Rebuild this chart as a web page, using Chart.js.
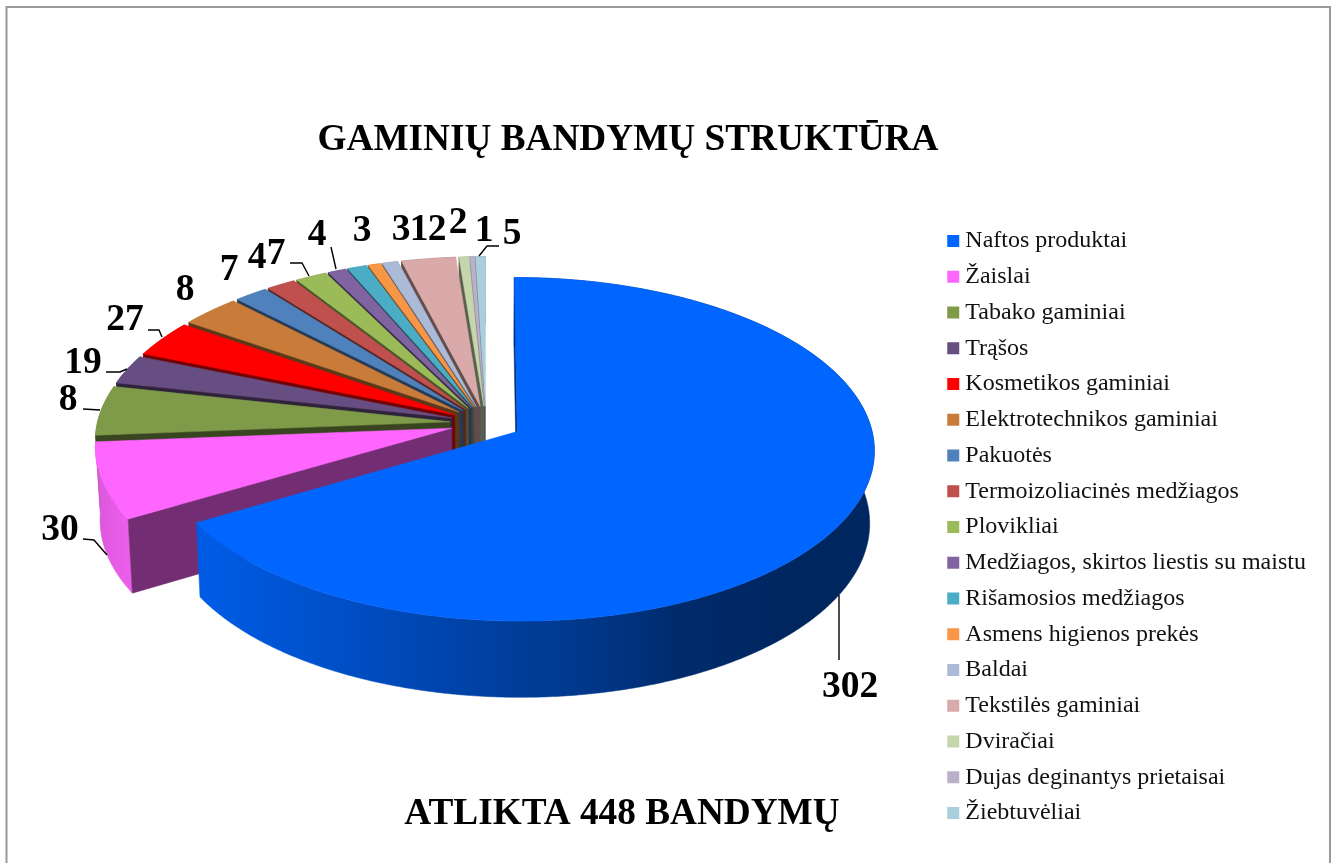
<!DOCTYPE html>
<html lang="lt">
<head>
<meta charset="utf-8">
<style>html,body{margin:0;padding:0;background:#fff;overflow:hidden}canvas{display:block}</style>
<script src="https://cdn.jsdelivr.net/npm/chart.js@4"></script>
</head>
<body>
<canvas id="c" width="1334" height="863"></canvas>
<script>
// ---- data ----
const categories = ["Naftos produktai","Žaislai","Tabako gaminiai","Trąšos","Kosmetikos gaminiai","Elektrotechnikos gaminiai","Pakuotės","Termoizoliacinės medžiagos","Plovikliai","Medžiagos, skirtos liestis su maistu","Rišamosios medžiagos","Asmens higienos prekės","Baldai","Tekstilės gaminiai","Dviračiai","Dujas deginantys prietaisai","Žiebtuvėliai"];
// slice sizes as drawn (with the blue slice = 302)
const sliceSizes = [302,32.8,21.4,12.6,15.8,13.9,7.8,6.8,7.3,4.3,4.5,3,3.7,12.5,2.3,1.1,2.3];
// numbers printed next to the slices
const printedLabels = ["302","30","8","19","27","8","7","4","7","4","3","3","1","2","2","1","5"];
const sliceColors = ["#0066FF","#FF66FF","#7F9A48","#664E82","#FF0000","#C97C3A","#4F81BD","#C0504D","#9BBB59","#8064A2","#4BACC6","#F79646","#AABAD7","#D9AAA9","#C6D6AC","#BAB0C9","#A9CEDC"];
const titleText = "GAMINIŲ BANDYMŲ STRUKTŪRA";
const bottomText = "ATLIKTA 448 BANDYMŲ";

// ---- layout / style (not data) ----
const SERIF = "'Liberation Serif','Times New Roman',serif";
const PIE = {cx:486, cy:423, r:355, explode:36, persp:.103, ky:168.2/355, kx:353/355, depth:72};
const labelPlaces = [[850,685],[60,528],[68,398],[83,361],[125,318],[185,288],[229,268],[257,256],[276,252],[317,233],[362,229],[401,228],[419,228],[437,228],[458,221],[484,229],[512,232]];
const leaders = [
  [[839,595],[839,660]],
  [[83,539],[94,540],[107,555]],
  [[83,409],[100,410]],
  [[106,372],[120,372],[127,369]],
  [[148,330],[159,330],[162,337]],
  [[290,263],[302,263],[309,276]],
  [[331,247],[336,269]],
  [[499,246],[487,246],[479,256]]
];
const wallShades = [[0,.85],[.04,.92],[.136,.9],[.367,.74],[.52,.62],[.65,.53],[.75,.42],[.905,.37],[1,.38]];

function shade(hex,f){
  const n=parseInt(hex.slice(1),16);
  return `rgb(${Math.round((n>>16&255)*f)},${Math.round((n>>8&255)*f)},${Math.round((n&255)*f)})`;
}
function fillPoly(ctx,pts,fill){
  ctx.beginPath();
  pts.forEach((p,i)=>i?ctx.lineTo(p[0],p[1]):ctx.moveTo(p[0],p[1]));
  ctx.closePath();
  ctx.fillStyle=fill; ctx.strokeStyle=fill; ctx.lineWidth=.5;
  ctx.fill(); ctx.stroke();
}
// Slices are laid out by Chart.js; each arc is painted as a tilted, exploded 3D wedge.
Chart.ArcElement.prototype.draw=function(ctx){
  const {x,y,startAngle:s,endAngle:e,outerRadius:r}=this;
  const col=this.options.backgroundColor, off=this.options.offset||0, mid=(s+e)/2;
  const ox=Math.cos(mid)*off, oy=Math.sin(mid)*off;
  const proj=(a,rad,z)=>{
    const X=ox+Math.cos(a)*rad, Y=oy+Math.sin(a)*rad, w=1-PIE.persp*Y/r;
    return [x+PIE.kx*X/w*(1-.012*z), y+PIE.ky*Y/w+z*PIE.depth/Math.sqrt(w)];
  };
  const steps=Math.max(2,Math.ceil((e-s)/.01)), arcTop=[], arcBot=[];
  for(let i=0;i<=steps;i++){const a=s+(e-s)*i/steps;arcTop.push(proj(a,r,0));arcBot.push(proj(a,r,1));}
  const apexTop=proj(s,0,0), apexBot=proj(s,0,1);
  ctx.save();
  const g=ctx.createLinearGradient(94,0,874,0);
  wallShades.forEach(t=>g.addColorStop(t[0],shade(col,t[1])));
  fillPoly(ctx,arcTop.concat(arcBot.slice().reverse()),g);
  fillPoly(ctx,[apexTop,arcTop[0],arcBot[0],apexBot],shade(col,.45));
  fillPoly(ctx,[apexTop].concat(arcTop),col);
  ctx.restore();
};
// back-to-front painting: the first slice is nearest the viewer
Chart.PieController.prototype.draw=function(){
  const els=this._cachedMeta.data, ctx=this._ctx, area=this.chart.chartArea;
  for(let i=els.length-1;i>=0;i--) els[i].draw(ctx,area);
};

const placer={
  id:'placer',
  afterLayout(chart){
    const size=2*PIE.r+PIE.explode, l=PIE.cx-size/2, t=PIE.cy-size/2;
    Object.assign(chart.chartArea,{left:l,top:t,right:l+size,bottom:t+size,width:size,height:size});
    const lg=chart.legend, pad=lg.options.labels.padding, half=lg.options.labels.font.size/2;
    lg.left=953.2-pad; lg.right=1334; lg.width=lg.right-lg.left;
    lg.top=241-half-pad; lg.bottom=lg.top+lg.height;
    chart.boxes.forEach(b=>{
      const txt=b.options&&b.options.text;
      if(txt===titleText){b.left=0;b.right=1256;b.top=140-22.3;b.bottom=b.top+44.7;b.width=1256;}
      if(txt===bottomText){b.left=0;b.right=1244;b.top=814.5-22.3;b.bottom=b.top+44.7;b.width=1244;}
    });
  },
  beforeDraw(chart){
    const c=chart.ctx;
    c.save();c.strokeStyle='#999';c.lineWidth=2;c.strokeRect(6.5,7,1323.5,900);c.restore();
  },
  afterDatasetsDraw(chart){
    const c=chart.ctx;
    c.save();
    c.strokeStyle='#000';c.lineWidth=1.4;
    leaders.forEach(pts=>{c.beginPath();pts.forEach((p,i)=>i?c.lineTo(p[0],p[1]):c.moveTo(p[0],p[1]));c.stroke();});
    c.fillStyle='#000';c.font=`bold 37.5px ${SERIF}`;c.textAlign='center';c.textBaseline='middle';
    printedLabels.forEach((t,i)=>c.fillText(t,labelPlaces[i][0],labelPlaces[i][1]+2.5));
    c.restore();
  }
};

new Chart(document.getElementById('c'),{
  type:'pie',
  data:{labels:categories,datasets:[{data:sliceSizes,backgroundColor:sliceColors,borderWidth:0,offset:PIE.explode}]},
  plugins:[placer],
  options:{
    responsive:false,animation:false,events:[],
    plugins:{
      tooltip:{enabled:false},
      title:{display:true,text:titleText,color:'#000',padding:0,font:{family:SERIF,size:37.25,weight:'bold'}},
      subtitle:{display:true,text:bottomText,position:'bottom',color:'#000',padding:0,font:{family:SERIF,size:37.25,weight:'bold'}},
      legend:{display:true,position:'right',align:'start',labels:{
        color:'#111',font:{family:SERIF,size:24},usePointStyle:true,pointStyle:'rect',boxWidth:.1,boxHeight:12,padding:11.75}}
    }
  }
});
</script>
</body>
</html>
